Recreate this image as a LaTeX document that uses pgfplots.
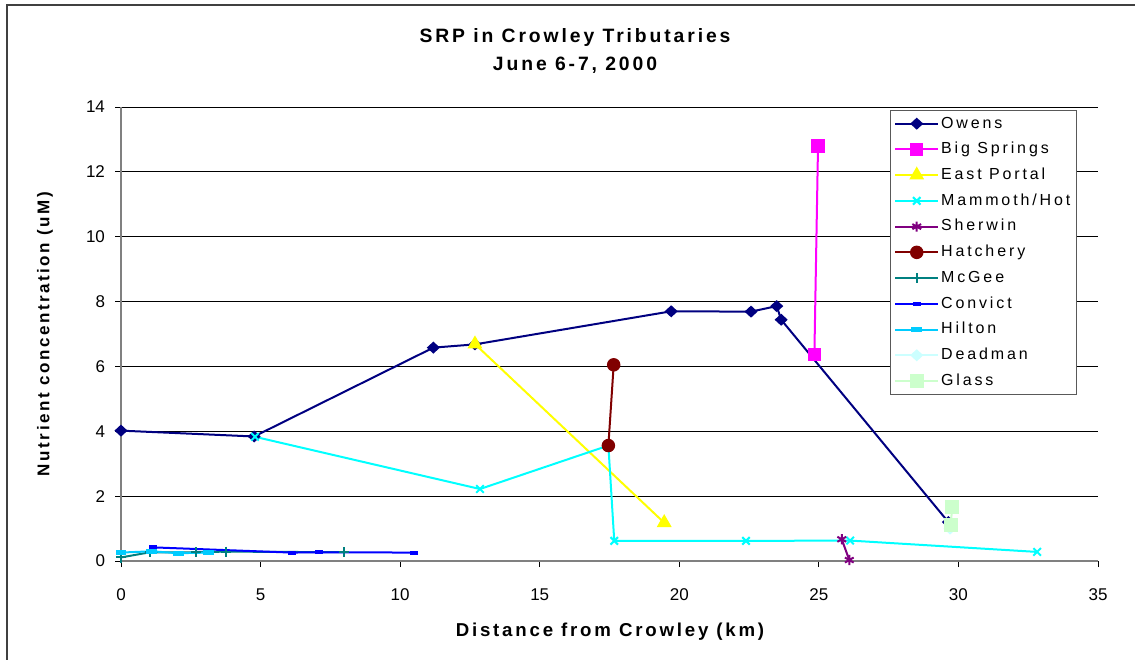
\documentclass[border=0pt]{standalone}
\usepackage{fontspec}
\setmainfont{Liberation Sans}
\newfontfamily\spfont[LetterSpace=15]{Liberation Sans}
\newfontfamily\lgfont[LetterSpace=18]{Liberation Sans}
\usepackage{pgfplots}
\pgfplotsset{compat=1.18}
\definecolor{cOwens}{HTML}{000080}
\definecolor{cBig}{HTML}{FF00FF}
\definecolor{cEast}{HTML}{FFFF00}
\definecolor{cMam}{HTML}{00FFFF}
\definecolor{cSher}{HTML}{800080}
\definecolor{cHat}{HTML}{800000}
\definecolor{cMcG}{HTML}{008080}
\definecolor{cCon}{HTML}{0000FF}
\definecolor{cHil}{HTML}{00CCFF}
\definecolor{cDead}{HTML}{CCFFFF}
\definecolor{cGlass}{HTML}{CCFFCC}
\begin{document}
\begin{tikzpicture}
\begin{axis}[
  at={(90.75pt,-420.75pt)}, anchor=south west,
  scale only axis, width=732.75pt, height=340.5pt,
  xmin=0, xmax=35, ymin=0, ymax=14,
  xtick={0,5,...,35}, ytick={0,2,...,14},
  axis lines=left,
  axis line style={-, draw=gray, line width=1.5pt},
  ymajorgrids, grid style={black, line width=0.75pt},
  tick align=outside, major tick length=4.5pt,
  tick style={black, line width=0.75pt},
  /pgf/number format/assume math mode=true,
  ticklabel style={font=\fontsize{12.75}{14}\selectfont},
  xticklabel style={yshift=-12.5pt},
  yticklabel style={xshift=-4pt},
  clip=false,
  every axis plot/.append style={line width=1.5pt, mark options={solid}},
  legend cell align=left,
  legend style={at={(0.787,0.993)}, anchor=north west, fill=white,
    draw=gray!70!black, line width=0.75pt,
    font=\lgfont\fontsize{12}{13}\selectfont,
    inner xsep=3pt, inner ysep=2.5pt, row sep=4.8pt,
    nodes={inner sep=1.5pt, text height=9pt, text depth=2.5pt}},
  legend image code/.code={\draw[mark repeat=2,mark phase=2,#1] plot coordinates {(0pt,0pt)(16pt,0pt)(32pt,0pt)};},
]
\addplot[color=cOwens, mark=diamond*, mark size=3.5pt, mark options={xscale=1.45}] coordinates {
 (0,4.02) (4.77,3.84) (11.19,6.58) (12.68,6.68) (19.71,7.70) (22.57,7.69) (23.49,7.86) (23.65,7.44) (29.64,1.2)};
\addlegendentry{Owens}
\addplot[color=cBig, mark=square*, mark size=4.2pt] coordinates {
 (24.84,6.38) (24.97,12.80)};
\addlegendentry{Big Springs}
\addplot[color=cEast, mark=triangle*, mark size=5pt] coordinates {
 (12.68,6.69) (19.46,1.18)};
\addlegendentry{East Portal}
\addplot[color=cMam, mark=x, mark size=4pt] coordinates {
 (4.8,3.83) (12.86,2.22) (17.46,3.56) (17.67,0.62) (22.39,0.62) (26.12,0.63) (32.82,0.28)};
\addlegendentry{Mammoth/Hot}
\addplot[color=cSher, mark=asterisk, mark size=3.8pt] coordinates {
 (25.82,0.67) (26.09,0.03)};
\addlegendentry{Sherwin}
\addplot[color=cHat, mark=*, mark size=4.3pt] coordinates {
 (17.46,3.56) (17.65,6.05)};
\addlegendentry{Hatchery}
\addplot[color=cMcG, mark=+, mark size=3.8pt] coordinates {
 (0,0.11) (1.04,0.27) (2.69,0.27) (3.76,0.29) (7.99,0.27)};
\addlegendentry{McGee}
\addplot[color=cCon, mark=-, mark size=3pt, mark options={line width=3pt}] coordinates {
 (1.16,0.42) (6.11,0.26) (7.09,0.27) (10.5,0.26)};
\addlegendentry{Convict}
\addplot[color=cHil, mark=-, mark size=4pt, mark options={line width=3.5pt}] coordinates {
 (0,0.26) (1.1,0.30) (2.05,0.24) (3.13,0.26)};
\addlegendentry{Hilton}
\addplot[color=cDead, mark=diamond*, mark size=3.5pt, mark options={xscale=1.45}] coordinates {
 (29.7,1.0)};
\addlegendentry{Deadman}
\addplot[color=cGlass, mark=square*, mark size=4.5pt] coordinates {
 (29.72,1.11) (29.78,1.67)};
\addlegendentry{Glass}
\end{axis}
\begin{scope}[x=0.75pt,y=-0.75pt]
\draw[line width=1.5pt, black!75] (7,660) -- (7,5) -- (1135,5);
\node[font=\spfont\bfseries\fontsize{14.5}{16}\selectfont] at (575,38) {SRP in Crowley Tributaries};
\node[font=\spfont\bfseries\fontsize{14.5}{16}\selectfont] at (575,65) {June 6-7, 2000};
\node[font=\spfont\bfseries\fontsize{14}{16}\selectfont] at (610,632) {Distance from Crowley (km)};
\node[font=\spfont\bfseries\fontsize{12.75}{14}\selectfont, rotate=90] at (45,334) {Nutrient concentration (uM)};
\pgfresetboundingbox
\path[use as bounding box] (0,0) rectangle (1135,660);
\end{scope}
\end{tikzpicture}
\end{document}
